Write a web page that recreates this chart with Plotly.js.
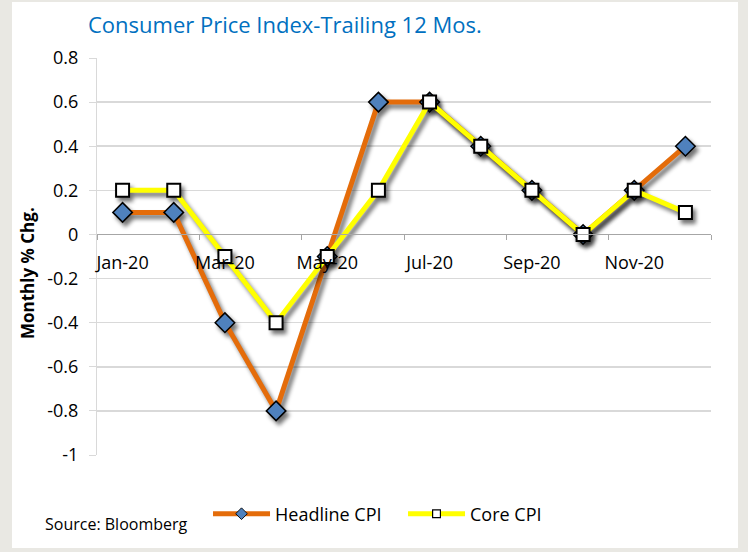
<!DOCTYPE html>
<html>
<head>
<meta charset="utf-8">
<script src="https://cdn.plot.ly/plotly-3.0.1.min.js"></script>
<style>
  html, body { margin: 0; padding: 0; background: #e9e8e3; width: 748px; height: 552px; overflow: hidden; }
  #chart { position: absolute; left: 12px; top: 2px; width: 726px; height: 546px; background: #ffffff; }
</style>
</head>
<body>
<svg width="10" height="10" style="position:absolute; left:-20px; top:-20px">
  <defs>
    <filter id="shx" x="-30%" y="-30%" width="160%" height="160%" color-interpolation-filters="sRGB">
      <feGaussianBlur in="SourceAlpha" stdDeviation="2.2"/>
      <feOffset dx="3" dy="4" result="ob"/>
      <feComponentTransfer><feFuncA type="linear" slope="0.55"/></feComponentTransfer>
      <feMerge><feMergeNode/><feMergeNode in="SourceGraphic"/></feMerge>
    </filter>
  </defs>
</svg>
<div id="chart"></div>
<script>
const months = ['Jan-20','Feb-20','Mar-20','Apr-20','May-20','Jun-20','Jul-20','Aug-20','Sep-20','Oct-20','Nov-20','Dec-20'];
const headlineCPI = [0.1, 0.1, -0.4, -0.8, -0.1, 0.6, 0.6, 0.4, 0.2, 0.0, 0.2, 0.4];
const coreCPI = [0.2, 0.2, -0.1, -0.4, -0.1, 0.2, 0.6, 0.4, 0.2, 0.0, 0.2, 0.1];
const yTicks = [0.8, 0.6, 0.4, 0.2, 0, -0.2, -0.4, -0.6, -0.8, -1];
const yTickText = ['0.8','0.6','0.4','0.2','0','-0.2','-0.4','-0.6','-0.8','-1'];
const xBoundaryTicks = [-0.5, 1.5, 3.5, 5.5, 7.5, 9.5, 11.5];

const FONT = 'Open Sans, Noto Sans, sans-serif';

const traces = [
  {
    x: months, y: headlineCPI, name: 'Headline CPI', type: 'scatter', mode: 'lines+markers',
    line: { color: '#E46C0A', width: 5 },
    marker: { symbol: 'diamond', size: 15, color: '#4F81BD', line: { color: '#000000', width: 1.5 } }
  },
  {
    x: months, y: coreCPI, name: 'Core CPI', type: 'scatter', mode: 'lines+markers',
    line: { color: '#FFFF00', width: 5 },
    marker: { symbol: 'square', size: 13, color: '#FFFFFF', line: { color: '#000000', width: 2 } }
  },
  {
    x: [], y: [], xaxis: 'x2', yaxis: 'y', type: 'scatter', mode: 'lines',
    showlegend: false, hoverinfo: 'skip'
  }
];

const layout = {
  width: 726, height: 546,
  margin: { l: 85, r: 27, t: 56, b: 93 },
  paper_bgcolor: '#ffffff', plot_bgcolor: '#ffffff',
  font: { family: FONT, size: 18, color: '#000000' },
  title: {
    text: 'Consumer Price Index-Trailing 12 Mos.',
    font: { family: FONT, size: 22, color: '#0070C0' },
    xref: 'container', yref: 'container', x: 0.1047, xanchor: 'left', y: 0.958, yanchor: 'middle'
  },
  showlegend: true,
  legend: {
    orientation: 'h', xref: 'container', yref: 'container',
    x: 0.27, xanchor: 'left', y: 1 - 512/546, yanchor: 'middle',
    font: { family: FONT, size: 18, color: '#000000' },
    itemwidth: 57, entrywidth: 123, entrywidthmode: 'pixels', bgcolor: 'rgba(0,0,0,0)'
  },
  xaxis: {
    type: 'category', categoryorder: 'array', categoryarray: months,
    range: [-0.5, 11.5], anchor: 'free', position: 1/1.8,
    dtick: 2, ticks: '', tickangle: 0,
    showline: true, linecolor: '#a6a6a6', linewidth: 1,
    showgrid: false, zeroline: false,
    tickfont: { family: FONT, size: 18, color: '#000000' },
    ticklabelstandoff: 12, fixedrange: true
  },
  xaxis2: {
    type: 'linear', overlaying: 'x', anchor: 'free', position: 1/1.8, side: 'bottom',
    range: [-0.5, 11.5], tickvals: xBoundaryTicks, showticklabels: false,
    ticks: 'outside', ticklen: 5, tickcolor: '#a6a6a6', tickwidth: 1,
    showline: false, showgrid: false, zeroline: false, fixedrange: true
  },
  yaxis: {
    range: [-1, 0.8], tickvals: yTicks, ticktext: yTickText,
    ticks: 'outside', ticklen: 7, tickcolor: '#d9d9d9',
    showline: true, linecolor: '#d9d9d9', linewidth: 1,
    showgrid: true, gridcolor: '#d9d9d9', gridwidth: 1.5, zeroline: false,
    tickfont: { family: FONT, size: 18, color: '#000000' },
    ticklabelstandoff: 7, fixedrange: true
  },
  annotations: [
    {
      text: '<b>Monthly % Chg.</b>', textangle: -90, showarrow: false,
      xref: 'paper', yref: 'paper', x: (15 - 85) / 614, y: 1 - 215 / 397,
      xanchor: 'center', yanchor: 'middle',
      font: { family: FONT, size: 17, color: '#000000' }
    },
    {
      text: 'Source: Bloomberg', showarrow: false,
      xref: 'paper', yref: 'paper', x: (31 - 85) / 614, y: 1 - 466 / 397,
      xanchor: 'left', yanchor: 'middle',
      font: { family: FONT, size: 16, color: '#000000' }
    }
  ]
};

function decorate(gd) {
  gd.querySelectorAll('.scatterlayer .trace').forEach(function (t) {
    t.setAttribute('filter', 'url(#shx)');
    t.style.filter = 'url(#shx)';
  });
  gd.querySelectorAll('.legend .legendpoints path.scatterpts').forEach(function (p) {
    const tr = p.getAttribute('transform') || '';
    p.setAttribute('transform', tr + ' scale(0.6)');
  });
}

Plotly.newPlot('chart', traces, layout, { displayModeBar: false, staticPlot: true }).then(decorate);
</script>
</body>
</html>
